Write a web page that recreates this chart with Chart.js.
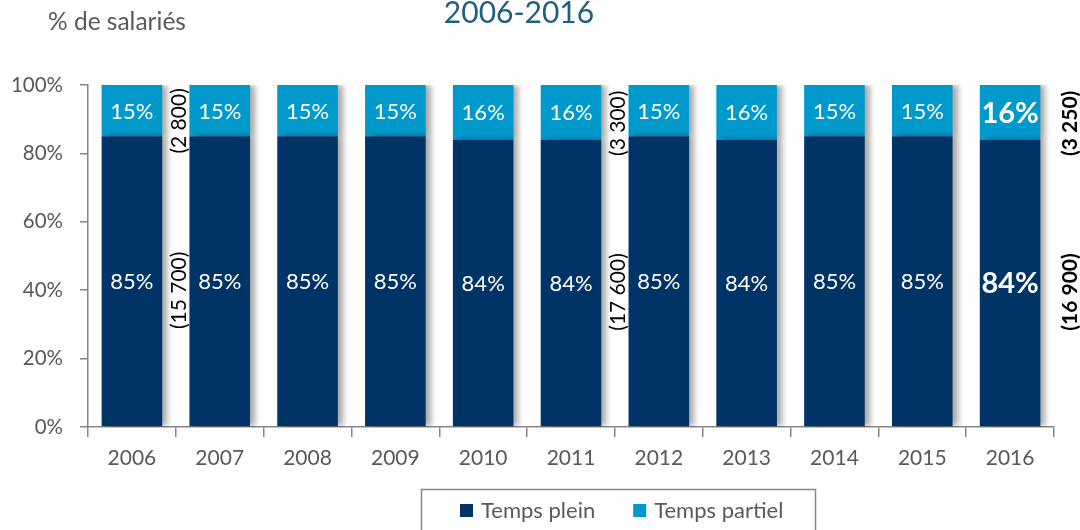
<!DOCTYPE html>
<html><head><meta charset="utf-8">
<script src="https://cdn.jsdelivr.net/npm/chart.js@4/dist/chart.umd.min.js"></script>
<style>html,body{margin:0;padding:0;background:#fff}#wrap{width:1080px;height:530px}</style>
</head><body><div id="wrap"><canvas id="c" width="1080" height="530"></canvas></div>
<script>
const years = ['2006','2007','2008','2009','2010','2011','2012','2013','2014','2015','2016'];
const tempsPlein   = [85,85,85,85,84,84,85,84,85,85,84];
const tempsPartiel = [15,15,15,15,16,16,15,16,15,15,16];
const yTicks = [0,20,40,60,80,100];
const seriesNames = ['Temps plein','Temps partiel'];
const effectifYears = ['2006','2011','2016'];
const effectifPartiel = ['(2 800)','(3 300)','(3 250)'];
const effectifPlein = ['(15 700)','(17 600)','(16 900)'];
const highlightYear = '2016';
const chartTitle = '2006-2016';
const yTitle = '% de salariés';

const FONT = 'Lato, "Open Sans", sans-serif';
const DARK = '#003366', LIGHT = '#0099cc', GREY = '#595959', AXIS = '#868686';

const drawPlugin = {
  id: 'custom',
  beforeDatasetsDraw(chart) {
    const ctx = chart.ctx;
    ctx.save();
    ctx.shadowColor = 'rgba(0,0,0,0.35)';
    ctx.shadowBlur = 6;
    ctx.shadowOffsetX = 5;
    ctx.shadowOffsetY = 0;
  },
  afterDatasetsDraw(chart) {
    const ctx = chart.ctx;
    ctx.restore();
    const yS = chart.scales.y;
    // value labels
    ctx.save();
    ctx.fillStyle = '#fff';
    ctx.textAlign = 'center';
    ctx.textBaseline = 'middle';
    chart.data.datasets.forEach((ds, di) => {
      const meta = chart.getDatasetMeta(di);
      meta.data.forEach((el, i) => {
        const hl = years[i] === highlightYear;
        ctx.font = (hl ? 'bold 29px ' : '22px ') + FONT;
        ctx.fillText(ds.data[i] + '%', el.x, (el.y + el.base) / 2 + 1);
      });
    });
    ctx.restore();
    // headcount annotations (rotated)
    ctx.save();
    ctx.fillStyle = '#000';
    ctx.textAlign = 'center';
    ctx.textBaseline = 'middle';
    const meta0 = chart.getDatasetMeta(0);
    effectifYears.forEach((yr, k) => {
      const idx = years.indexOf(yr);
      const el = meta0.data[idx];
      const hl = yr === highlightYear;
      const x = el.x + el.width / 2 + (hl ? 30 : 17);
      ctx.font = (hl ? 'bold 21px ' : '21px ') + FONT;
      const pairs = [
        [effectifPartiel[k], yS.getPixelForValue(100 - tempsPartiel[idx] * 0.7)],
        [effectifPlein[k], yS.getPixelForValue(tempsPlein[idx] * 0.47)]
      ];
      pairs.forEach(([txt, y]) => {
        ctx.save();
        ctx.translate(x, y);
        ctx.rotate(-Math.PI / 2);
        ctx.fillText(txt, 0, 0);
        ctx.restore();
      });
    });
    ctx.restore();
  },
  afterDraw(chart) {
    const ctx = chart.ctx;
    ctx.save();
    // titles
    ctx.textBaseline = 'middle';
    ctx.fillStyle = GREY;
    ctx.font = '24.5px ' + FONT;
    ctx.textAlign = 'left';
    ctx.fillText(yTitle, 48, 22);
    ctx.fillStyle = '#1f5f80';
    ctx.font = '30px ' + FONT;
    ctx.textAlign = 'center';
    ctx.fillText(chartTitle, 519, 13);
    // legend
    const colors = [DARK, LIGHT];
    ctx.font = '22px ' + FONT;
    ctx.textAlign = 'left';
    let x = 460;
    const ly = 511;
    seriesNames.forEach((name, i) => {
      ctx.fillStyle = colors[i];
      ctx.fillRect(x, ly - 7, 13, 13);
      x += 13 + 8;
      ctx.fillStyle = GREY;
      ctx.fillText(name, x, ly);
      x += ctx.measureText(name).width + 38;
    });
    ctx.strokeStyle = AXIS;
    ctx.lineWidth = 1.5;
    ctx.strokeRect(421.5, 489.5, 394, 60);
    ctx.restore();
  }
};

new Chart(document.getElementById('c'), {
  type: 'bar',
  data: {
    labels: years,
    datasets: [
      { label: seriesNames[0], data: tempsPlein, backgroundColor: DARK, borderWidth: 0 },
      { label: seriesNames[1], data: tempsPartiel, backgroundColor: LIGHT, borderWidth: 0 }
    ]
  },
  options: {
    responsive: false,
    animation: false,
    devicePixelRatio: 1,
    categoryPercentage: 1,
    barPercentage: 0.69,
    layout: { padding: { top: 85, right: 26, left: 0, bottom: 41 } },
    plugins: { legend: { display: false }, tooltip: { enabled: false }, title: { display: false } },
    scales: {
      x: {
        stacked: true,
        grid: { display: true, drawOnChartArea: false, drawTicks: true, tickLength: 10, color: AXIS, lineWidth: 1.5, offset: true },
        border: { color: AXIS, width: 1.5 },
        ticks: { color: GREY, font: { family: FONT, size: 21 }, padding: 9 },
        afterFit(s) { s.height = 62; }
      },
      y: {
        stacked: true,
        min: 0, max: 100,
        afterBuildTicks(s) { s.ticks = yTicks.map(v => ({ value: v })); },
        grid: { display: true, drawOnChartArea: false, drawTicks: true, tickLength: 8, color: AXIS, lineWidth: 1.5 },
        border: { color: AXIS, width: 1.5 },
        ticks: { color: GREY, font: { family: FONT, size: 20.5 }, padding: 17, callback: v => v + '%' },
        afterFit(s) { s.width = 88; }
      }
    }
  },
  plugins: [drawPlugin]
});
</script></body></html>
